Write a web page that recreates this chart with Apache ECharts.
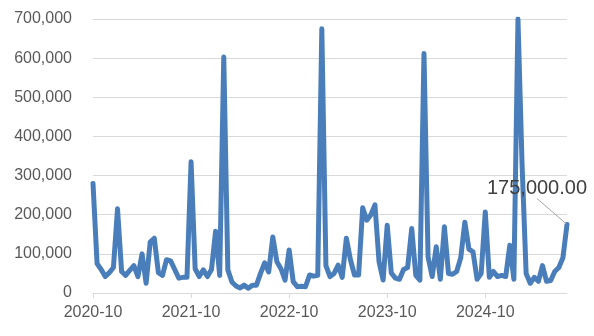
<!DOCTYPE html>
<html>
<head>
<meta charset="utf-8">
<script src="https://cdn.jsdelivr.net/npm/echarts@6/dist/echarts.min.js"></script>
<style>
html,body{margin:0;padding:0;background:#fff;}
#chart{width:594px;height:336px;}
</style>
</head>
<body>
<div id="chart"></div>
<script>
// Half-monthly observations, starting 2020-10-01
var startYear = 2020, startMonth = 10, pointCount = 117;
var tickLabels = ['2020-10', '2021-10', '2022-10', '2023-10', '2024-10'];
var values = [
  280000, 75000, 60000, 42000, 52000, 65000, 215000, 55000, 45000, 58000,
  70000, 42000, 100000, 25000, 130000, 140000, 52000, 45000, 85000, 82000,
  60000, 38000, 40000, 40000, 335000, 62000, 42000, 59000, 42000, 60000,
  158000, 45000, 603000, 59000, 28000, 18000, 13000, 20000, 12000, 20000,
  20000, 50000, 77000, 54000, 143000, 80000, 62000, 33000, 110000, 29000,
  16000, 17000, 16000, 46000, 43000, 45000, 675000, 70000, 42000, 50000,
  71000, 40000, 140000, 85000, 46000, 46000, 218000, 186000, 200000, 225000,
  80000, 33000, 173000, 51000, 38000, 35000, 60000, 65000, 165000, 45000,
  33000, 612000, 92000, 42000, 118000, 35000, 169000, 50000, 48000, 55000,
  90000, 181000, 112000, 105000, 35000, 50000, 207000, 40000, 55000, 42000,
  45000, 42000, 122000, 35000, 700000, 330000, 50000, 25000, 40000, 30000,
  70000, 30000, 32000, 55000, 65000, 90000, 175000
];
var lastLabel = '175,000.00';

var categories = [];
for (var i = 0; i < pointCount; i++) {
  var m = startMonth - 1 + Math.floor(i / 2);
  var y = startYear + Math.floor(m / 12);
  var mm = (m % 12) + 1;
  categories.push(y + '-' + (mm < 10 ? '0' + mm : mm) + '-' + (i % 2 ? '16' : '01'));
}

var seriesData = values.map(function (v, idx) {
  if (idx === values.length - 1) {
    return {
      value: v,
      symbol: 'circle',
      symbolSize: 2,
      itemStyle: { color: 'rgba(74,126,187,0)', borderWidth: 0 },
      label: {
        show: true,
        position: 'top',
        formatter: lastLabel,
        fontFamily: 'Liberation Sans',
        fontSize: 20,
        color: '#404040'
      },
      labelLine: { show: true, lineStyle: { color: '#a6a6a6', width: 1 } }
    };
  }
  return { value: v };
});

function isTick(idx, val) {
  return tickLabels.indexOf(val.slice(0, 7)) >= 0 && val.slice(8) === '01';
}

var chart = echarts.init(document.getElementById('chart'), null, { renderer: 'canvas' });
chart.setOption({
  animation: false,
  backgroundColor: '#ffffff',
  grid: { left: 93, right: 27, top: 19, bottom: 43, containLabel: false },
  xAxis: {
    type: 'category',
    data: categories,
    boundaryGap: false,
    axisLine: { show: true, lineStyle: { color: '#d9d9d9', width: 1 } },
    axisTick: { show: true, interval: isTick, length: 5, lineStyle: { color: '#d9d9d9' } },
    axisLabel: {
      interval: isTick,
      formatter: function (v) { return v.slice(0, 7); },
      fontFamily: 'Liberation Sans',
      fontSize: 16,
      color: '#595959',
      margin: 12
    },
    splitLine: { show: false }
  },
  yAxis: {
    type: 'value',
    min: 0,
    max: 700000,
    interval: 100000,
    axisLine: { show: false },
    axisTick: { show: false },
    axisLabel: {
      formatter: function (v) { return v.toLocaleString('en-US'); },
      fontFamily: 'Liberation Sans',
      fontSize: 16,
      color: '#595959',
      margin: 21
    },
    splitLine: { lineStyle: { color: '#d9d9d9', width: 1 } }
  },
  series: [{
    type: 'line',
    data: seriesData,
    showSymbol: true,
    symbol: 'none',
    showAllSymbol: true,
    clip: true,
    lineStyle: { color: '#4a7ebb', width: 5, join: 'round', cap: 'round' },
    itemStyle: { color: '#4a7ebb' },
    labelLayout: { dx: -30, dy: -20 },
    emphasis: { disabled: true }
  }]
});
</script>
</body>
</html>
